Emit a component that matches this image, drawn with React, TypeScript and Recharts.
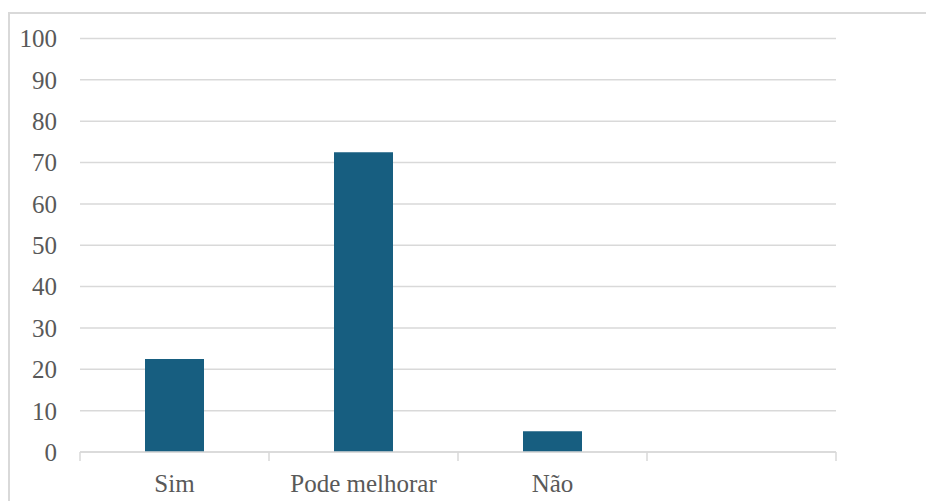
import { BarChart, Bar, XAxis, YAxis, CartesianGrid } from "recharts";

const categories = ["Sim", "Pode melhorar", "Não", ""];
const values = [22.5, 72.5, 5, null];
const yTicks = [0, 10, 20, 30, 40, 50, 60, 70, 80, 90, 100];

const data = categories.map((name, i) => ({ name, value: values[i] }));

const textColor = "#595959";
const lineColor = "#d9d9d9";
const font = "Liberation Serif";

// label in the middle of the band, tick marks on the band edges
function CatTick(props: any) {
  const { x, y, payload, index, visibleTicksCount } = props;
  const half = payload && typeof payload.offset === "number" ? payload.offset : 0;
  const last = index === visibleTicksCount - 1;
  return (
    <g>
      {half > 0 && (
        <line x1={x - half} x2={x - half} y1={y} y2={y + 9} stroke={lineColor} strokeWidth={1.5} />
      )}
      {half > 0 && last && (
        <line x1={x + half} x2={x + half} y1={y} y2={y + 9} stroke={lineColor} strokeWidth={1.5} />
      )}
      <text x={x} y={y + 22} dy="0.71em" textAnchor="middle" fill={textColor} fontSize={25} fontFamily={font}>
        {payload.value}
      </text>
    </g>
  );
}

function ValueTick(props: any) {
  const { x, y, payload } = props;
  return (
    <text x={x} y={y} dy="0.355em" textAnchor="end" fill={textColor} fontSize={25} fontFamily={font}>
      {payload.value}
    </text>
  );
}

export default function App() {
  return (
    <div
      style={{
        position: "absolute",
        left: 8,
        top: 12,
        width: 918,
        height: 489,
        borderTop: `2px solid ${lineColor}`,
        borderLeft: `2px solid ${lineColor}`,
        overflow: "hidden",
        background: "#fff",
        fontFamily: font,
      }}
    >
      <BarChart
        width={916}
        height={487}
        data={data}
        margin={{ top: 24.5, right: 90, left: 0, bottom: 5 }}
      >
        <CartesianGrid vertical={false} stroke={lineColor} strokeWidth={1.5} />
        <XAxis
          dataKey="name"
          axisLine={{ stroke: lineColor, strokeWidth: 1.5 }}
          tickLine={false}
          tickSize={0}
          tickMargin={0}
          height={44}
          interval={0}
          tick={<CatTick />}
        />
        <YAxis
          domain={[0, 100]}
          ticks={yTicks}
          width={70}
          axisLine={false}
          tickLine={false}
          tickSize={0}
          tickMargin={23}
          tick={<ValueTick />}
        />
        <Bar
          dataKey="value"
          fill="#175e80"
          barSize={59}
          isAnimationActive={false}
        />
      </BarChart>
    </div>
  );
}
